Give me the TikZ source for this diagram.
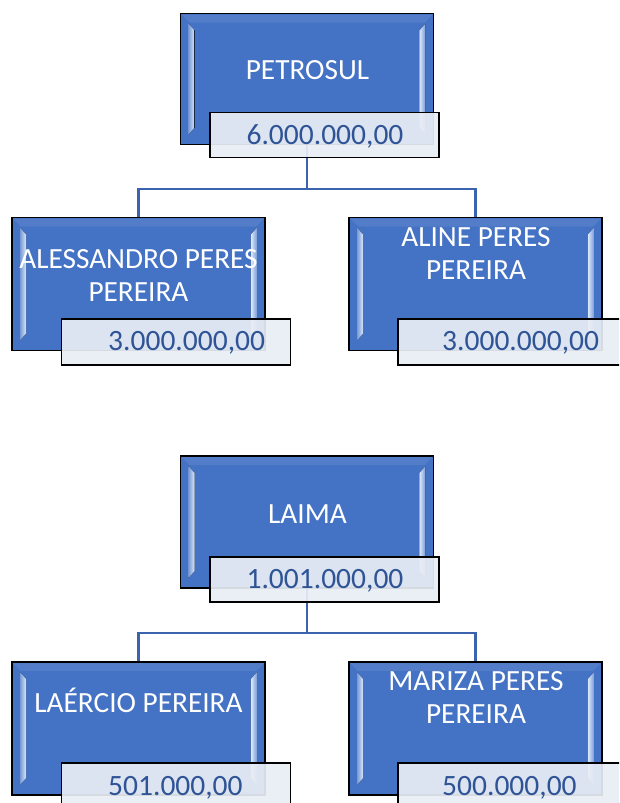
\documentclass[tikz,border=0pt]{standalone}
\usepackage{fontspec}
\setmainfont{Carlito}
\usetikzlibrary{backgrounds}
\definecolor{boxblue}{HTML}{4472C4}
\definecolor{valblue}{HTML}{2F5496}
\definecolor{connblue}{HTML}{3C64AE}
\definecolor{valfill}{HTML}{E9EDF5}
\definecolor{bevlight}{HTML}{DCE9FD}
\tikzset{
  orgbox/.style={draw=black, line width=1.6pt, fill=boxblue, minimum width=253pt, minimum height=132pt, inner sep=0pt},
  valbox/.style={draw=black, line width=1.6pt, fill=valfill, fill opacity=0.92, draw opacity=1, minimum width=229pt, minimum height=45pt, inner sep=0pt},
  nametext/.style={text=white, font=\fontsize{29.3}{33}\selectfont, align=center, inner sep=0pt},
  valtext/.style={text=valblue, font=\fontsize{29.5}{33}\selectfont, inner sep=0pt},
  conn/.style={draw=connblue, line width=2.6pt},
}
\newcommand{\orgbevel}[1]{%
  \fill[left color=boxblue!70!white, right color=bevlight] ([shift={(9,11)}]#1.north west) -- ([shift={(15,18)}]#1.north west) -- ([shift={(15,-18)}]#1.south west) -- ([shift={(9,-11)}]#1.south west) -- cycle;
  \fill[right color=boxblue!70!white, left color=bevlight] ([shift={(-9,11)}]#1.north east) -- ([shift={(-15,18)}]#1.north east) -- ([shift={(-15,-18)}]#1.south east) -- ([shift={(-9,-11)}]#1.south east) -- cycle;
  \fill[boxblue!92!white] ([shift={(2,2)}]#1.north west) -- ([shift={(10,10)}]#1.north west) -- ([shift={(-10,10)}]#1.north east) -- ([shift={(-2,2)}]#1.north east) -- cycle;
}
\begin{document}
\begin{tikzpicture}[x=1pt, y=-1pt]
\clip (0,0) rectangle (619,803);

% ---------- PETROSUL group ----------
\coordinate (j1) at (307,189);
\node[orgbox, minimum height=131pt] (petro) at (307,79) {};
\node[orgbox, minimum height=133pt] (ale) at (138.5,284) {};
\node[orgbox, minimum height=133pt] (aline) at (475.5,284) {};
\orgbevel{petro}
\orgbevel{ale}
\orgbevel{aline}
\node[nametext, text height=18.8pt, text depth=0pt] (petrot) at (307.5,70.5) {PETROSUL};
\node[nametext] (alet) at (138.5,275.5) {ALESSANDRO PERES\\PEREIRA};
\node[nametext] (alinet) at (476,253) {ALINE PERES\\PEREIRA};
\node[valbox] (petrov) at (324.5,135) {};
\node[valbox, minimum height=46pt] (alev) at (176,342) {};
\node[valbox, minimum height=46pt] (alinev) at (512.5,342) {};
\node[valtext, anchor=base] (petrovt) at (325,144) {6.000.000,00};
\node[valtext, anchor=base west] (alevt) at (108,350) {3.000.000,00};
\node[valtext, anchor=base west] (alinevt) at (442,350) {3.000.000,00};

% ---------- LAIMA group ----------
\coordinate (j2) at (307,633);
\node[orgbox] (laima) at (307,522) {};
\node[orgbox, minimum height=133pt] (laer) at (138.5,728.5) {};
\node[orgbox, minimum height=133pt] (mari) at (475.5,728.5) {};
\orgbevel{laima}
\orgbevel{laer}
\orgbevel{mari}
\node[nametext, text height=18.8pt, text depth=0pt] (laimat) at (307.5,514) {LAIMA};
\node[nametext, text height=18.8pt, text depth=0pt] (laert) at (138.5,703) {LAÉRCIO PEREIRA};
\node[nametext] (marit) at (476,697) {MARIZA PERES\\PEREIRA};
\node[valbox] (laimav) at (324.5,579.5) {};
\node[valbox, minimum height=46pt] (laerv) at (176,786) {};
\node[valbox, minimum height=46pt] (mariv) at (512.5,786) {};
\node[valtext, anchor=base] (laimavt) at (325,588) {1.001.000,00};
\node[valtext, anchor=base west] (laervt) at (108,795) {501.000,00};
\node[valtext, anchor=base west] (marivt) at (442,795) {500.000,00};

\begin{scope}[on background layer]
  \fill[white] (0,0) rectangle (619,803);
  \draw[conn] (petro.center) -- (j1) -| (ale.north);
  \draw[conn] (j1) -| (aline.north);
  \draw[conn] (laima.center) -- (j2) -| (laer.north);
  \draw[conn] (j2) -| (mari.north);
\end{scope}
\end{tikzpicture}
\end{document}
